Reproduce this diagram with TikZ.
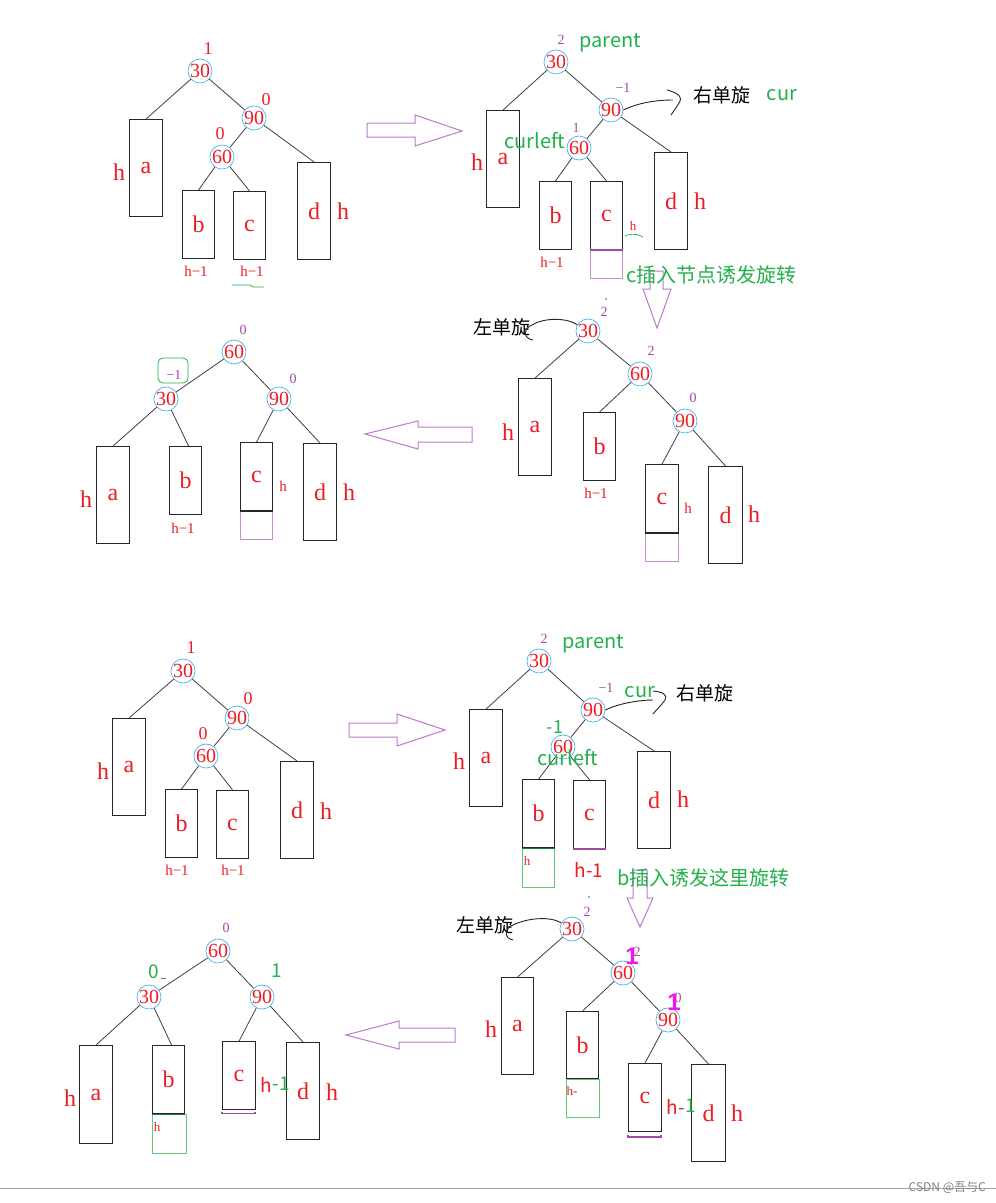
\documentclass[tikz,border=0pt]{standalone}
\usepackage{fontspec}
\setmainfont{Liberation Serif}
\newfontfamily\cjk{Noto Sans CJK SC}
\newfontfamily\lsans{Liberation Sans}
\newcommand\fsz[1]{\fontsize{#1}{#1}\selectfont}
\definecolor{tred}{RGB}{237,28,36}
\definecolor{tpurple}{RGB}{163,73,164}
\definecolor{tgreen}{RGB}{34,177,76}
\definecolor{nodeblue}{RGB}{70,178,235}
\definecolor{apurple}{RGB}{190,120,205}
\definecolor{lpurple}{RGB}{200,140,210}
\definecolor{lgreen}{RGB}{100,200,120}
\definecolor{tmag}{RGB}{240,20,240}
\begin{document}
\begin{tikzpicture}[x=1pt,y=-1pt,
  num/.style={circle, draw=nodeblue, line width=0.7pt, text=tred, font=\fsz{20}, inner sep=0pt, minimum size=24pt},
  box/.style={draw=black!85, line width=1.1pt, text=tred, font=\fsz{24}, inner sep=0pt, anchor=north west},
  tall/.style={box, minimum width=33pt, minimum height=97pt},
  short/.style={box, minimum width=32pt, minimum height=68pt},
  hbig/.style={text=tred, font=\fsz{24}, inner sep=0pt},
  bfr/.style={text=tred, font=\fsz{18}, inner sep=0pt},
  bfp/.style={text=tpurple, font=\fsz{14}, inner sep=0pt},
  hsmall/.style={text=tred, font=\fsz{15}, inner sep=0pt},
  htiny/.style={text=tred, font=\fsz{13}, inner sep=0pt},
  hsans/.style={text=tred, font=\cjk\fsz{19}, inner sep=0pt},
  gtxt/.style={text=tgreen, font=\cjk\fsz{20}, inner sep=0pt},
  ctxt/.style={text=black, font=\cjk\fsz{19}, inner sep=0pt},
  magone/.style={text=tmag, font=\lsans\bfseries\fsz{24}, inner sep=0pt},
  link/.style={draw=black!75, line width=0.8pt},
  hand/.style={draw=black!85, line width=0.9pt},
  barrow/.style={draw=apurple, line width=1pt, line join=miter},
  pbox/.style={draw=lpurple, line width=0.9pt},
  gbox/.style={draw=lgreen, line width=0.9pt}]
\fill[white] (0,0) rectangle (996,1203);
\useasboundingbox (0,0) rectangle (996,1203);

% ================= Panel 1 =================
\node[num] (p1n30) at (200,71) {30};
\node[num] (p1n90) at (254,118) {90};
\node[num] (p1n60) at (222,157) {60};
\node[tall] (p1a) at (129,119) {a};
\node[short] (p1b) at (182,190) {b};
\node[short] (p1c) at (233,191) {c};
\node[tall] (p1d) at (297,162) {d};
\draw[link] (p1n30) -- (p1a.north);
\draw[link] (p1n30) -- (p1n90);
\draw[link] (p1n90) -- (p1n60);
\draw[link] (p1n90) -- (p1d.north);
\draw[link] (p1n60) -- (p1b.north);
\draw[link] (p1n60) -- (p1c.north);
\node[bfr] (p1f1) at (208,49) {1};
\node[bfr] (p1f2) at (266,100) {0};
\node[bfr] (p1f3) at (220,134) {0};
\node[hbig] (p1h1) at (119,172) {h};
\node[hbig] (p1h2) at (343,211) {h};
\node[hsmall] (p1h3) at (196,271) {h−1};
\node[hsmall] (p1h4) at (252,271) {h−1};
\draw[tgreen, line width=0.8pt] (232,285) -- (250,285) -- (253,287) -- (264,287);

% arrow right 1
\draw[barrow] (367,123) -- (415,123) -- (415,115) -- (462,131) -- (415,146) -- (415,137) -- (367,137) -- cycle;

% ================= Panel 2 =================
\node[num] (p2n30) at (556,62) {30};
\node[num] (p2n90) at (611,110) {90};
\node[num] (p2n60) at (579,148) {60};
\node[tall] (p2a) at (486,110) {a};
\node[short] (p2b) at (539,181) {b};
\node[short] (p2c) at (590,181) {c};
\node[tall] (p2d) at (654,152) {d};
\draw[link] (p2n30) -- (p2a.north);
\draw[link] (p2n30) -- (p2n90);
\draw[link] (p2n90) -- (p2n60);
\draw[link] (p2n90) -- (p2d.north);
\draw[link] (p2n60) -- (p2b.north);
\draw[link] (p2n60) -- (p2c.north);
\draw[pbox] (p2c.south west) rectangle ++(32,28);
\draw[tpurple, line width=1.3pt] (p2c.south west) -- (p2c.south east);
\node[bfp] (p2f1) at (561,40) {2};
\node[gtxt] (p2t1) at (610,43) {parent};
\node[bfp] (p2f2) at (623,88) {−1};
\node[bfp] (p2f3) at (576,128) {1};
\node[gtxt] (p2t2) at (535,141) {curleft};
\node[hbig] (p2h1) at (477,162) {h};
\node[hbig] (p2h2) at (700,201) {h};
\node[hsmall] (p2h3) at (552,262) {h−1};
\node[htiny] (p2h4) at (633,226) {h};
\draw[tgreen, line width=0.7pt] (625,236) .. controls (632,233) and (638,234) .. (643,237);
\coordinate (p2k1) at (673,100);
\draw[hand] (p2n90.east) .. controls (638,103) and (655,100) .. (p2k1);
\draw[hand] (667,90) .. controls (675,92) and (684,96) .. (679,103) .. controls (676,108) and (673,112) .. (671,115);
\node[ctxt] (p2t3) at (722,95) {右单旋};
\node[gtxt] (p2t4) at (782,95) {cur};

% arrow down 1
\draw[barrow] (650,271) -- (663,271) -- (663,289) -- (671,289) -- (657,328) -- (643,289) -- (650,289) -- cycle;
\node[gtxt, anchor=west] (p2t5) at (626,275) {c插入节点诱发旋转};

% ================= Panel 3 =================
\node[num] (p3n30) at (588,331) {30};
\node[num] (p3n60) at (640,374) {60};
\node[num] (p3n90) at (685,421) {90};
\node[tall] (p3a) at (518,378) {a};
\node[short] (p3b) at (583,412) {b};
\node[short, minimum width=33pt] (p3c) at (645,464) {c};
\node[tall, minimum width=34pt] (p3d) at (708,466) {d};
\draw[link] (p3n30) -- (p3a.north);
\draw[link] (p3n30) -- (p3n60);
\draw[link] (p3n60) -- (p3b.north);
\draw[link] (p3n60) -- (p3n90);
\draw[link] (p3n90) -- (p3c.north);
\draw[link] (p3n90) -- (p3d.north);
\draw[pbox] (p3c.south west) rectangle ++(33,28);
\draw[black!85, line width=1.1pt] (p3c.south west) -- (p3c.south east);
\fill[blue!70] (606,299) circle (0.9);
\node[bfp] (p3f1) at (604,312) {2};
\node[bfp] (p3f2) at (651,351) {2};
\node[bfp] (p3f3) at (693,398) {0};
\node[ctxt] (p3t1) at (502,327) {左单旋};
\draw[hand] (533,340) .. controls (522,338) and (524,328) .. (532,325) .. controls (545,317) and (568,318) .. (p3n30.150);
\node[hbig] (p3h1) at (508,432) {h};
\node[hsmall] (p3h2) at (596,493) {h−1};
\node[hsmall] (p3h3) at (688,508) {h};
\node[hbig] (p3h4) at (754,514) {h};

% arrow left 1
\draw[barrow] (472,427) -- (418,427) -- (418,421) -- (365,434) -- (418,449) -- (418,442) -- (472,442) -- cycle;

% ================= Panel 4 =================
\node[num] (p4n60) at (234,352) {60};
\node[num] (p4n30) at (166,399) {30};
\node[num] (p4n90) at (279,399) {90};
\node[tall] (p4a) at (96,446) {a};
\node[short] (p4b) at (169,446) {b};
\node[short] (p4c) at (240,442) {c};
\node[tall] (p4d) at (303,443) {d};
\draw[link] (p4n60) -- (p4n30);
\draw[link] (p4n60) -- (p4n90);
\draw[link] (p4n30) -- (p4a.north);
\draw[link] (p4n30) -- ([xshift=3pt]p4b.north);
\draw[link] (p4n90) -- (p4c.north);
\draw[link] (p4n90) -- (p4d.north);
\draw[pbox] (p4c.south west) rectangle ++(32,28);
\draw[black!85, line width=1.1pt] (p4c.south west) -- (p4c.south east);
\node[bfp] (p4f1) at (243,330) {0};
\node[bfp] (p4f2) at (174,375) {−1};
\draw[tgreen, line width=0.8pt, rounded corners=5pt] (158,358) rectangle (188,383);
\node[bfp] (p4f3) at (293,379) {0};
\node[hbig] (p4h1) at (86,499) {h};
\node[hsmall] (p4h2) at (183,528) {h−1};
\node[hsmall] (p4h3) at (283,486) {h};
\node[hbig] (p4h4) at (349,492) {h};

% ================= Panel 5 =================
\node[num] (p5n30) at (183,671) {30};
\node[num] (p5n90) at (237,718) {90};
\node[num] (p5n60) at (206,756) {60};
\node[tall] (p5a) at (112,718) {a};
\node[short] (p5b) at (165,789) {b};
\node[short] (p5c) at (216,790) {c};
\node[tall] (p5d) at (280,761) {d};
\draw[link] (p5n30) -- (p5a.north);
\draw[link] (p5n30) -- (p5n90);
\draw[link] (p5n90) -- (p5n60);
\draw[link] (p5n90) -- (p5d.north);
\draw[link] (p5n60) -- (p5b.north);
\draw[link] (p5n60) -- (p5c.north);
\node[bfr] (p5f1) at (191,648) {1};
\node[bfr] (p5f2) at (248,699) {0};
\node[bfr] (p5f3) at (203,734) {0};
\node[hbig] (p5h1) at (103,771) {h};
\node[hbig] (p5h2) at (326,811) {h};
\node[hsmall] (p5h3) at (177,870) {h−1};
\node[hsmall] (p5h4) at (233,870) {h−1};

% arrow right 2
\draw[barrow] (349,723) -- (397,723) -- (397,714) -- (445,730) -- (397,746) -- (397,737) -- (349,737) -- cycle;

% ================= Panel 6 =================
\node[num] (p6n30) at (539,661) {30};
\node[num] (p6n90) at (593,710) {90};
\node[num] (p6n60) at (563,747) {60};
\node[tall] (p6a) at (469,709) {a};
\node[short] (p6b) at (522,779) {b};
\node[short] (p6c) at (573,780) {c};
\node[tall] (p6d) at (637,751) {d};
\draw[link] (p6n30) -- (p6a.north);
\draw[link] (p6n30) -- (p6n90);
\draw[link] (p6n90) -- (p6n60);
\draw[link] (p6n90) -- (p6d.north);
\draw[link] (p6n60) -- (p6b.north);
\draw[link] (p6n60) -- (p6c.north);
\draw[gbox] (p6b.south west) rectangle ++(32,39);
\draw[tgreen!70!black, line width=1.2pt] (p6b.south west) -- (p6b.south east);
\draw[tpurple, line width=1.3pt] (p6c.south west) -- (p6c.south east);
\node[bfp] (p6f1) at (544,639) {2};
\node[gtxt] (p6t1) at (593,644) {parent};
\node[bfp] (p6f2) at (606,688) {−1};
\node[gtxt] (p6t2) at (640,692) {cur};
\coordinate (p6k1) at (653,700);
\draw[hand] (p6n90.east) .. controls (620,703) and (640,700) .. (p6k1);
\draw[hand] (653,691) .. controls (662,692) and (668,694) .. (665,700) .. controls (661,706) and (656,710) .. (653,714);
\node[ctxt] (p6t3) at (705,693) {右单旋};
\node[text=tgreen, font=\cjk\fsz{18}, inner sep=0pt] (p6f3) at (555,727) {-1};
\node[gtxt] (p6t4) at (568,758) {curleft};
\node[hbig] (p6h1) at (459,761) {h};
\node[hbig] (p6h2) at (683,799) {h};
\node[htiny] (p6h3) at (527,861) {h};
\node[hsans] (p6h4) at (589,870) {h-1};

% arrow down 2
\draw[barrow] (633,870) -- (647,870) -- (647,898) -- (653,898) -- (640,927) -- (627,898) -- (633,898) -- cycle;
\node[gtxt, anchor=west] (p6t5) at (617,878) {b插入诱发这里旋转};

% ================= Panel 7 =================
\node[num] (p7n30) at (572,929) {30};
\node[num] (p7n60) at (623,973) {60};
\node[num] (p7n90) at (668,1020) {90};
\node[tall, minimum width=32pt] (p7a) at (501,977) {a};
\node[short, minimum height=67pt] (p7b) at (566,1011) {b};
\node[short, minimum width=33pt] (p7c) at (628,1063) {c};
\node[tall, minimum width=34pt] (p7d) at (691,1064) {d};
\draw[link] (p7n30) -- (p7a.north);
\draw[link] (p7n30) -- (p7n60);
\draw[link] (p7n60) -- (p7b.north);
\draw[link] (p7n60) -- (p7n90);
\draw[link] (p7n90) -- (p7c.north);
\draw[link] (p7n90) -- (p7d.north);
\draw[gbox] (p7b.south west) rectangle ++(33,38);
\draw[tpurple, line width=1.3pt] ([yshift=-3pt]p7c.south west) -- ++(0,2) -- ++(33,0) -- ++(0,-2);
\fill[blue!70] (589,897) circle (0.9);
\node[bfp] (p7f1) at (587,912) {2};
\node[ctxt] (p7t1) at (485,925) {左单旋};
\draw[hand] (513,940) .. controls (503,938) and (505,928) .. (513,925) .. controls (527,918) and (550,916) .. (p7n30.150);
\node[bfp] (p7f2) at (637,952) {2};
\node[magone] (p7f3) at (632,956) {1};
\node[bfp] (p7f4) at (678,998) {0};
\node[magone] (p7f5) at (674,1002) {1};
\node[hbig] (p7h1) at (491,1029) {h};
\node[hbig] (p7h2) at (737,1113) {h};
\node[htiny] (p7h3) at (572,1091) {h-};
\node[hsans] (p7h4) at (676,1107) {h-};
\node[text=tgreen, font=\cjk\fsz{19}, inner sep=0pt] (p7h5) at (691,1106) {1};

% arrow left 2
\draw[barrow] (455,1028) -- (399,1028) -- (399,1021) -- (346,1035) -- (399,1049) -- (399,1042) -- (455,1042) -- cycle;

% ================= Panel 8 =================
\node[num] (p8n60) at (218,951) {60};
\node[num] (p8n30) at (149,997) {30};
\node[num] (p8n90) at (262,997) {90};
\node[tall, minimum height=98pt] (p8a) at (79,1045) {a};
\node[short] (p8b) at (152,1045) {b};
\node[short, minimum width=33pt] (p8c) at (222,1041) {c};
\node[tall] (p8d) at (286,1042) {d};
\draw[link] (p8n60) -- (p8n30);
\draw[link] (p8n60) -- (p8n90);
\draw[link] (p8n30) -- (p8a.north);
\draw[link] (p8n30) -- ([xshift=3pt]p8b.north);
\draw[link] (p8n90) -- (p8c.north);
\draw[link] (p8n90) -- (p8d.north);
\draw[gbox] (p8b.south west) rectangle ++(34,39);
\draw[tgreen!70!black, line width=1.1pt] (p8b.south west) -- (p8b.south east);
\draw[tpurple, line width=1.1pt] ([yshift=-2pt]p8c.south west) -- ++(0,1) -- ++(33,0) -- ++(0,-1);
\node[bfp] (p8f1) at (226,928) {0};
\node[text=tgreen, font=\cjk\fsz{19}, inner sep=0pt] (p8f2) at (154,972) {0};
\draw[tpurple, line width=0.7pt] (161,978) -- (166,978);
\node[text=tgreen, font=\cjk\fsz{19}, inner sep=0pt] (p8f3) at (277,971) {1};
\node[hbig] (p8h1) at (70,1098) {h};
\node[hbig] (p8h2) at (332,1092) {h};
\node[htiny] (p8h3) at (157,1127) {h};
\node[hsans] (p8h4) at (266,1085) {h};
\node[text=tgreen, font=\cjk\fsz{19}, inner sep=0pt] (p8h5) at (281,1084) {-1};

% ================= footer =================
\draw[gray!70, line width=0.6pt] (0,1188) -- (996,1188);
\node[text=gray, font=\cjk\fsz{12}, anchor=east, inner sep=0pt] (wm) at (986,1188) {CSDN @吾与C};
\end{tikzpicture}
\end{document}
